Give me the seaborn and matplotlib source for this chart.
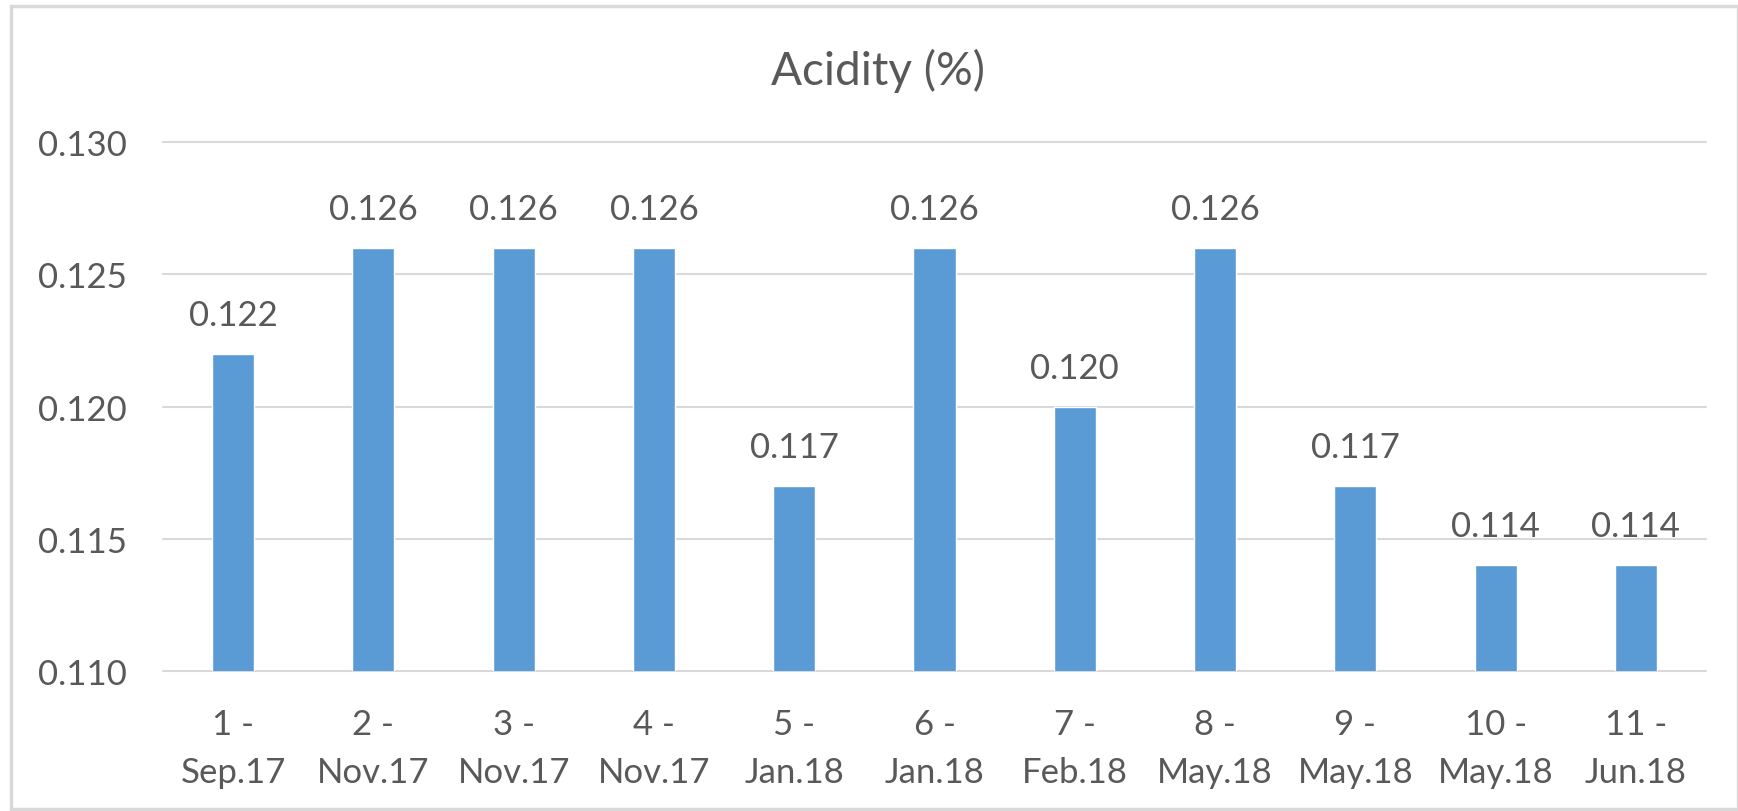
import matplotlib
matplotlib.use("Agg")
import matplotlib.pyplot as plt
import seaborn as sns
import pandas as pd
from matplotlib.patches import Rectangle

# 데이터
samples = ["1 -\nSep.17", "2 -\nNov.17", "3 -\nNov.17", "4 -\nNov.17", "5 -\nJan.18",
           "6 -\nJan.18", "7 -\nFeb.18", "8 -\nMay.18", "9 -\nMay.18", "10 -\nMay.18", "11 -\nJun.18"]
acidity = [0.122, 0.126, 0.126, 0.126, 0.117, 0.126, 0.120, 0.126, 0.117, 0.114, 0.114]
yticks = [0.110, 0.115, 0.120, 0.125, 0.130]

df = pd.DataFrame({"sample": samples, "acidity": acidity})

sns.set_style("white")
plt.rcParams['font.family'] = ['Lato', 'DejaVu Sans']
txt = '#595959'

fig = plt.figure(figsize=(17.38, 8.12), dpi=100)
ax = fig.add_axes([163/1738, 1-672/812, (1706-163)/1738, (672-143)/812])

sns.barplot(data=df, x="sample", y="acidity", color="#5B9BD5", width=0.3,
            saturation=1, ax=ax, zorder=3)

ax.set_ylim(0.110, 0.130)
ax.set_yticks(yticks)
ax.set_yticklabels(['%.3f' % v for v in yticks])
ax.set_xlim(-0.5, len(samples) - 0.5)
ax.grid(axis='y', color='#D9D9D9', linewidth=1.5, zorder=0)
for g in ax.get_ygridlines():
    g.set_clip_on(False)
for s in ax.spines.values():
    s.set_visible(False)
ax.tick_params(axis='y', length=0, pad=26, labelsize=25, labelcolor=txt)
ax.tick_params(axis='x', length=0, pad=27, labelsize=25, labelcolor=txt)
ax.set_xlabel('')
ax.set_ylabel('')

# 막대 위 값 표시
for i, v in enumerate(acidity):
    ax.annotate('%.3f' % v, (i, v), xytext=(0, 28), textcoords='offset points',
                ha='center', va='center', fontsize=25, color=txt)

fig.text(0.505, 1-71/812, 'Acidity (%)', ha='center', va='center', fontsize=33, color=txt)

# 테두리
fig.patches.append(Rectangle((11/1738, 1-810/812), 1 - 11/1738, (810-7)/812,
                             transform=fig.transFigure, fill=False,
                             edgecolor='#D9D9D9', linewidth=2.5))

# x축 라벨 줄간격 (그린 뒤에 적용)
fig.canvas.draw()
for lbl in ax.get_xticklabels():
    lbl.set_linespacing(1.6)

fig.savefig('out.png', dpi=100)
